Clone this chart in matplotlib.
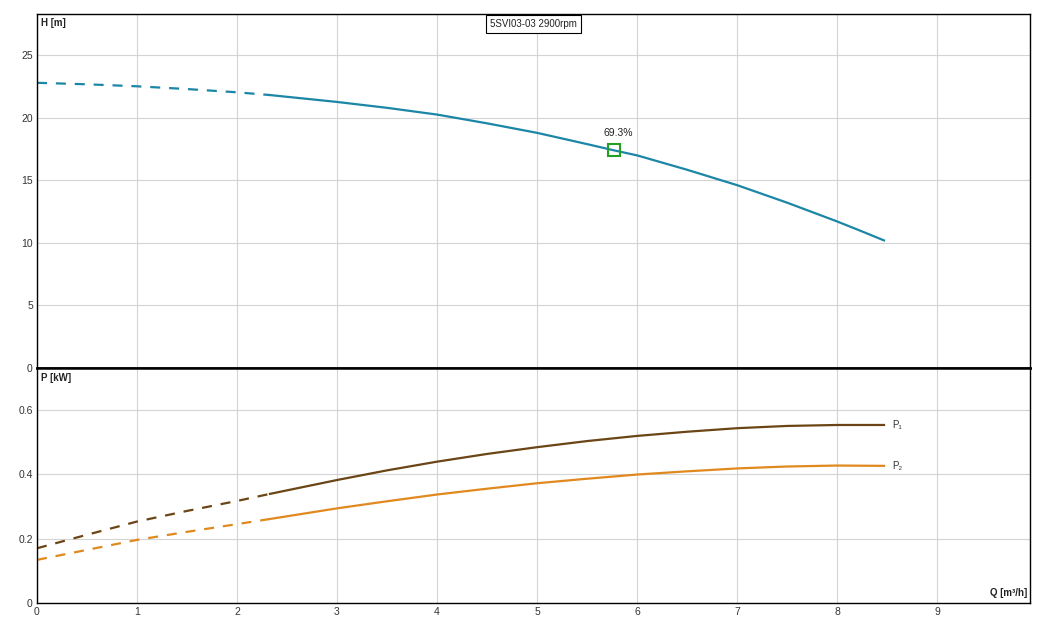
import matplotlib
matplotlib.use('Agg')
import matplotlib.pyplot as plt
from matplotlib.ticker import FixedLocator, FuncFormatter

plt.rcParams['font.family'] = ['Liberation Sans', 'DejaVu Sans']

# 扬程曲线 H-Q (虚线部分到 q_split)
q_h = [0, 0.5, 1, 1.5, 2, 2.33, 3, 3.5, 4, 4.5, 5, 5.5, 5.77, 6, 6.5, 7, 7.5, 8, 8.25, 8.47]
h = [22.8, 22.68, 22.52, 22.3, 22.04, 21.82, 21.27, 20.8, 20.26, 19.56, 18.8, 17.9, 17.4,
     17.0, 15.85, 14.62, 13.22, 11.72, 10.92, 10.2]

# 功率曲线 P1 / P2
q_p = [0, 0.5, 1, 1.5, 2, 2.33, 3, 3.5, 4, 4.5, 5, 5.5, 6, 6.5, 7, 7.5, 8, 8.47]
p1 = [0.170, 0.212, 0.253, 0.286, 0.317, 0.339, 0.382, 0.412, 0.439, 0.463, 0.484, 0.503,
      0.519, 0.532, 0.543, 0.550, 0.553, 0.553]
p2 = [0.134, 0.165, 0.196, 0.221, 0.245, 0.261, 0.294, 0.316, 0.337, 0.355, 0.372, 0.386,
      0.399, 0.409, 0.418, 0.424, 0.427, 0.426]

q_split = 2.33
bep_q, bep_h, bep_label = 5.77, 17.4, '69.3%'
title = '5SVI03-03 2900rpm'

c_h = '#1b86a6'
c_p1 = '#6b4515'
c_p2 = '#e0891f'
c_grid = '#d4d4d4'

fig = plt.figure(figsize=(10.45, 6.26), dpi=100)
ax_h = fig.add_axes([37 / 1045, 1 - 368 / 626, 993 / 1045, 354 / 626])
ax_p = fig.add_axes([37 / 1045, 1 - 603 / 626, 993 / 1045, 235 / 626])


def split(q, v):
    a = [(x, y) for x, y in zip(q, v) if x <= q_split]
    b = [(x, y) for x, y in zip(q, v) if x >= q_split]
    return list(zip(*a)), list(zip(*b))


def draw(ax, q, v, color):
    (qa, va), (qb, vb) = split(q, v)
    ax.plot(qa, va, color=color, lw=1.6, dashes=(4.5, 4))
    ax.plot(qb, vb, color=color, lw=1.6)


draw(ax_h, q_h, h, c_h)
ax_h.plot([bep_q], [bep_h], marker='s', ms=8, mfc='none', mec='#22a022', mew=1.5)
ax_h.annotate(bep_label, (bep_q, bep_h), xytext=(3, 9), textcoords='offset points',
              ha='center', va='bottom', fontsize=7.5, color='#222222')

draw(ax_p, q_p, p1, c_p1)
draw(ax_p, q_p, p2, c_p2)
ax_p.annotate('P₁', (q_p[-1], p1[-1]), xytext=(6, 0), textcoords='offset points',
              ha='left', va='center', fontsize=7, color='#333333')
ax_p.annotate('P₂', (q_p[-1], p2[-1]), xytext=(6, 0), textcoords='offset points',
              ha='left', va='center', fontsize=7, color='#333333')

for ax in (ax_h, ax_p):
    ax.set_xlim(0, 9.93)
    ax.xaxis.set_major_locator(FixedLocator(range(0, 10)))
    ax.grid(True, color=c_grid, lw=0.8)
    ax.set_axisbelow(True)
    ax.tick_params(length=0, labelsize=7.5, labelcolor='#333333', pad=3)
    for s in ax.spines.values():
        s.set_color('black')
        s.set_linewidth(1.0)

ax_h.set_ylim(0, 28.3)
ax_h.yaxis.set_major_locator(FixedLocator([0, 5, 10, 15, 20, 25]))
ax_h.tick_params(axis='x', labelbottom=False)
ax_h.spines['bottom'].set_linewidth(1.8)

ax_p.set_ylim(0, 0.73)
ax_p.yaxis.set_major_locator(FixedLocator([0, 0.2, 0.4, 0.6]))
ax_p.yaxis.set_major_formatter(FuncFormatter(lambda v, _: '0' if v == 0 else '%g' % v))
ax_p.spines['top'].set_linewidth(1.8)

ax_h.text(0.004, 0.988, 'H [m]', transform=ax_h.transAxes, ha='left', va='top',
          fontsize=7, fontweight='bold', color='#222222')
ax_p.text(0.004, 0.98, 'P [kW]', transform=ax_p.transAxes, ha='left', va='top',
          fontsize=7, fontweight='bold', color='#222222')
ax_p.text(0.997, 0.02, 'Q [m³/h]', transform=ax_p.transAxes, ha='right', va='bottom',
          fontsize=7, fontweight='bold', color='#222222')
ax_h.text(0.5, 0.972, title, transform=ax_h.transAxes, ha='center', va='center',
          fontsize=7, color='#222222',
          bbox=dict(boxstyle='square,pad=0.45', fc='white', ec='black', lw=0.8))

fig.savefig('out.png', dpi=100)
